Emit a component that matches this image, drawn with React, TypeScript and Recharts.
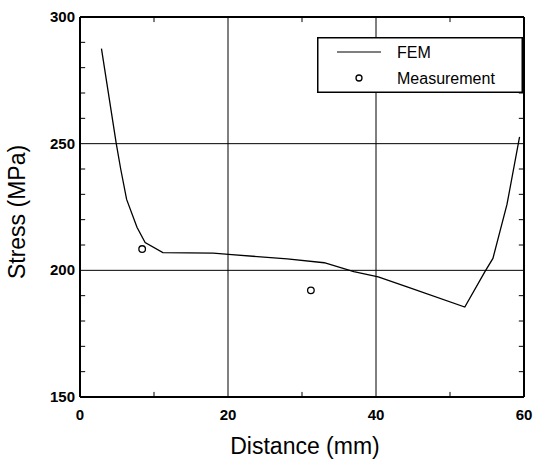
import React from 'react';
import {
  ComposedChart,
  Line,
  Scatter,
  XAxis,
  YAxis,
  ReferenceLine,
  Legend,
} from 'recharts';

// FEM curve
const femDistance = [2.9, 4.9, 5.5, 6.3, 7.7, 8.8, 11.2, 18, 20.5, 28, 33, 37, 40.3, 44.4, 52, 54.7, 55.8, 57.7, 59.4];
const femStress = [287.5, 250, 240, 228, 217, 211, 207, 206.8, 206.2, 204.5, 203, 199.5, 197.4, 193.3, 185.5, 199.4, 204.7, 226, 252.7];

const measDistance = [8.4, 31.2];
const measStress = [208.4, 192.1];

const xTicks = [0, 10, 20, 30, 40, 50, 60];
const xLabels = [0, 20, 40, 60];
const xMinor = [10, 30, 50];
const yTicks = [150, 160, 170, 180, 190, 200, 210, 220, 230, 240, 250, 260, 270, 280, 290, 300];
const yLabels = [150, 200, 250, 300];
const yMinor = [160, 170, 180, 190, 210, 220, 230, 240, 260, 270, 280, 290];
const gridX = [20, 40];
const gridY = [200, 250];

const X_MIN = 0;
const X_MAX = 60;
const Y_MIN = 150;
const Y_MAX = 300;
// inward tick length, in axis units (about 5 px)
const X_TICK_LEN = 0.7;
const Y_TICK_LEN = 2;

const femData = femDistance.map((d, i) => ({ x: d, y: femStress[i] }));
const measData = measDistance.map((d, i) => ({ x: d, y: measStress[i] }));

const FONT = '"Liberation Sans", Arial, sans-serif';

const XTick = (props: any) => {
  const { x, y, payload } = props;
  if (!xLabels.includes(payload.value)) return null;
  return (
    <text x={x} y={y + 23} textAnchor="middle" fontFamily={FONT} fontSize={15} fontWeight="bold" fill="#000">
      {payload.value}
    </text>
  );
};

const YTick = (props: any) => {
  const { x, y, payload } = props;
  if (!yLabels.includes(payload.value)) return null;
  return (
    <text x={x - 5} y={y + 5} textAnchor="end" fontFamily={FONT} fontSize={15} fontWeight="bold" fill="#000">
      {payload.value}
    </text>
  );
};

const LegendBox = () => (
  <svg width={206} height={56} style={{ display: 'block' }}>
    <rect x={0.75} y={0.75} width={204.5} height={54.5} fill="#fff" stroke="#000" strokeWidth={1.5} />
    <line x1={20} y1={15} x2={64} y2={15} stroke="#000" strokeWidth={1.2} />
    <circle cx={42} cy={41} r={3} fill="none" stroke="#000" strokeWidth={1.3} />
    <text x={80} y={20.5} fontFamily={FONT} fontSize={16} fill="#000">FEM</text>
    <text x={80} y={46.5} fontFamily={FONT} fontSize={16} fill="#000">Measurement</text>
  </svg>
);

const ids = { xAxisId: 'b', yAxisId: 'l' };

export default function App() {
  return (
    <div style={{ position: 'absolute', left: 0, top: 0, background: '#fff' }}>
      <ComposedChart width={534} height={459} margin={{ top: 17, right: 10, bottom: 0, left: 0 }}>
        <XAxis
          xAxisId="b"
          type="number"
          dataKey="x"
          domain={[X_MIN, X_MAX]}
          ticks={xTicks}
          interval={0}
          height={62}
          axisLine={false}
          tickLine={false}
          tickSize={0}
          tickMargin={0}
          tick={<XTick />}
          label={{
            content: () => (
              <text x={305} y={454} textAnchor="middle" fontFamily={FONT} fontSize={23} fill="#000">
                Distance (mm)
              </text>
            ),
          }}
        />
        <YAxis
          yAxisId="l"
          type="number"
          dataKey="y"
          domain={[Y_MIN, Y_MAX]}
          ticks={yTicks}
          interval={0}
          width={80}
          axisLine={false}
          tickLine={false}
          tickSize={0}
          tickMargin={0}
          tick={<YTick />}
          label={{
            content: () => (
              <text transform="translate(25,212) rotate(-90)" textAnchor="middle" fontFamily={FONT} fontSize={23} fill="#000">
                Stress (MPa)
              </text>
            ),
          }}
        />
        {gridX.map((v) => (
          <ReferenceLine key={`gx${v}`} {...ids} x={v} stroke="#000" strokeWidth={1} />
        ))}
        {gridY.map((v) => (
          <ReferenceLine key={`gy${v}`} {...ids} y={v} stroke="#000" strokeWidth={1} />
        ))}
        {/* minor ticks, pointing inward on all four sides */}
        {xMinor.map((v) => (
          <ReferenceLine key={`tb${v}`} {...ids} ifOverflow="visible" stroke="#000" strokeWidth={1}
            segment={[{ x: v, y: Y_MIN }, { x: v, y: Y_MIN + Y_TICK_LEN }]} />
        ))}
        {xMinor.map((v) => (
          <ReferenceLine key={`tt${v}`} {...ids} ifOverflow="visible" stroke="#000" strokeWidth={1}
            segment={[{ x: v, y: Y_MAX }, { x: v, y: Y_MAX - Y_TICK_LEN }]} />
        ))}
        {yMinor.map((v) => (
          <ReferenceLine key={`tl${v}`} {...ids} ifOverflow="visible" stroke="#000" strokeWidth={1}
            segment={[{ x: X_MIN, y: v }, { x: X_MIN + X_TICK_LEN, y: v }]} />
        ))}
        {yMinor.map((v) => (
          <ReferenceLine key={`tr${v}`} {...ids} ifOverflow="visible" stroke="#000" strokeWidth={1}
            segment={[{ x: X_MAX, y: v }, { x: X_MAX - X_TICK_LEN, y: v }]} />
        ))}
        {/* frame */}
        {[X_MIN, X_MAX].map((v) => (
          <ReferenceLine key={`fx${v}`} {...ids} x={v} ifOverflow="visible" stroke="#000" strokeWidth={2} />
        ))}
        {[Y_MIN, Y_MAX].map((v) => (
          <ReferenceLine key={`fy${v}`} {...ids} y={v} ifOverflow="visible" stroke="#000" strokeWidth={2} />
        ))}
        <Line
          {...ids}
          data={femData}
          dataKey="y"
          name="FEM"
          type="linear"
          stroke="#000"
          strokeWidth={1.3}
          dot={false}
          isAnimationActive={false}
        />
        <Scatter
          {...ids}
          data={measData}
          dataKey="y"
          name="Measurement"
          fill="none"
          stroke="#000"
          strokeWidth={1.3}
          shape={(p: any) => <circle cx={p.cx} cy={p.cy} r={3.3} fill="none" stroke="#000" strokeWidth={1.3} />}
          isAnimationActive={false}
        />
        <Legend
          layout="horizontal"
          verticalAlign="middle"
          align="center"
          width={206}
          content={() => <LegendBox />}
          wrapperStyle={{ position: 'absolute', left: 317, top: 37, width: 206, height: 56 }}
        />
      </ComposedChart>
    </div>
  );
}
